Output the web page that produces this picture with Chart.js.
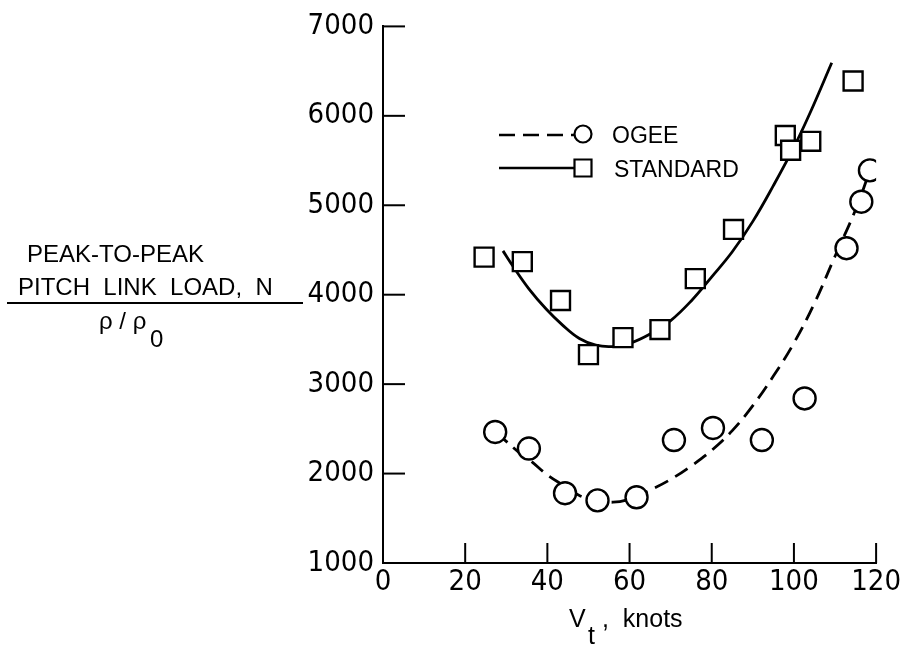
<!DOCTYPE html>
<html><head><meta charset="utf-8">
<script src="https://cdn.jsdelivr.net/npm/chart.js@4"></script>
<style>html,body{margin:0;padding:0;background:#fff}#wrap{position:relative;width:903px;height:648px}</style>
</head><body><div id="wrap"><canvas id="c" width="903" height="648"></canvas></div>
<script>
// ---- data ----
const xTickValues = [0, 20, 40, 60, 80, 100, 120];
const yTickValues = [1000, 2000, 3000, 4000, 5000, 6000, 7000];
const seriesLabels = ['OGEE', 'STANDARD'];

const ogeeX = [27.3, 35.5, 44.3, 52.2, 61.7, 70.8, 80.3, 92.2, 102.6, 112.8, 116.4, 118.5];
const ogeeY = [2465, 2280, 1780, 1700, 1735, 2375, 2510, 2375, 2840, 4520, 5040, 5390];

const stdX = [24.6, 33.9, 43.2, 50.0, 58.4, 67.4, 76.0, 85.3, 97.9, 99.2, 104.1, 114.4];
const stdY = [4420, 4370, 3935, 3330, 3520, 3610, 4180, 4730, 5780, 5615, 5715, 6390];

const ogeeFitX = [27.5, 30, 33, 36, 40, 44, 48, 52, 56, 60, 65, 70, 75, 80, 85, 90, 95, 100, 105, 110, 115, 118.5];
const ogeeFitY = [2460, 2360, 2240, 2140, 1985, 1865, 1750, 1700, 1680, 1715, 1815, 1935, 2085, 2260, 2480, 2760, 3090, 3460, 3905, 4430, 4950, 5390];

const stdFitX = [29.2, 31.6, 35.6, 39.7, 43.7, 47.8, 51.8, 55.8, 60, 65, 70, 75, 80, 85, 90, 95, 100, 104, 109.2];
const stdFitY = [4490, 4320, 4060, 3840, 3660, 3510, 3435, 3420, 3455, 3560, 3710, 3930, 4200, 4480, 4820, 5220, 5650, 6040, 6594];

const yTitleLines = ['PEAK-TO-PEAK', 'PITCH  LINK  LOAD,  N'];
const xTitleMain = 'V', xTitleSub = 't', xTitleRest = ',  knots';

// ---- helpers ----
const pts = (xs, ys) => xs.map((x, i) => ({x: x, y: ys[i]}));
const TEXT = 'Liberation Sans, Arial, sans-serif';
const NUM = '"Liberation Sans Narrow", "DejaVu Sans Condensed", sans-serif';

const decor = {
  id: 'decor',
  afterDraw(chart) {
    const ctx = chart.ctx, xs = chart.scales.x, ys = chart.scales.y;
    const ca = chart.chartArea;
    ctx.save();
    ctx.strokeStyle = '#000'; ctx.fillStyle = '#000'; ctx.lineWidth = 2;
    // inward ticks
    yTickValues.forEach(v => {
      if (v === ys.min) return;
      const py = ys.getPixelForValue(v);
      ctx.beginPath(); ctx.moveTo(ca.left, py); ctx.lineTo(ca.left + 22, py); ctx.stroke();
    });
    xTickValues.forEach(v => {
      if (v === xs.min) return;
      const px = xs.getPixelForValue(v);
      ctx.beginPath(); ctx.moveTo(px, ca.bottom); ctx.lineTo(px, ca.bottom - 20); ctx.stroke();
    });
    // y title (fraction)
    ctx.font = '24px ' + TEXT; ctx.textAlign = 'left'; ctx.textBaseline = 'alphabetic';
    ctx.fillText(yTitleLines[0], 27, 262);
    ctx.fillText(yTitleLines[1], 18, 295);
    ctx.beginPath(); ctx.moveTo(7, 303); ctx.lineTo(303, 303); ctx.stroke();
    ctx.fillText('\u03C1 / \u03C1', 99, 329);
    ctx.fillText('0', 150, 347);
    // x title
    ctx.font = '25px ' + TEXT;
    ctx.fillText(xTitleMain, 569, 627);
    ctx.fillText(xTitleSub, 588, 644);
    ctx.fillText(xTitleRest, 602, 627);
    // legend
    const ly = [135, 168];
    ctx.lineWidth = 2.5;
    ctx.setLineDash([16, 8]);
    ctx.beginPath(); ctx.moveTo(499, ly[0]); ctx.lineTo(574, ly[0]); ctx.stroke();
    ctx.setLineDash([]);
    ctx.beginPath(); ctx.moveTo(499, ly[1]); ctx.lineTo(574, ly[1]); ctx.stroke();
    ctx.lineWidth = 2.2;
    ctx.fillStyle = '#fff';
    ctx.beginPath(); ctx.arc(583, ly[0] - 1, 8.5, 0, Math.PI * 2); ctx.fill(); ctx.stroke();
    ctx.beginPath(); ctx.rect(574.5, ly[1] - 8.5, 17, 17); ctx.fill(); ctx.stroke();
    ctx.fillStyle = '#000';
    ctx.font = '23px ' + TEXT;
    ctx.fillText(seriesLabels[0], 612, 143);
    ctx.fillText(seriesLabels[1], 614, 177);
    ctx.restore();
  }
};

new Chart(document.getElementById('c'), {
  type: 'scatter',
  data: {
    datasets: [
      {label: seriesLabels[0] + ' fit', data: pts(ogeeFitX, ogeeFitY), showLine: true, borderColor: '#000', borderWidth: 2.8,
       borderDash: [15, 8], pointRadius: 0, tension: 0.4, order: 3},
      {label: seriesLabels[1] + ' fit', data: pts(stdFitX, stdFitY), showLine: true, borderColor: '#000', borderWidth: 2.8,
       pointRadius: 0, tension: 0.4, order: 3},
      {label: seriesLabels[0], data: pts(ogeeX, ogeeY), pointStyle: 'circle', pointRadius: 11, pointBorderWidth: 2.4,
       borderColor: '#000', backgroundColor: '#fff', pointBackgroundColor: '#fff', order: 1},
      {label: seriesLabels[1], data: pts(stdX, stdY), pointStyle: 'rect', pointRadius: 13.4, pointBorderWidth: 2.4,
       borderColor: '#000', backgroundColor: '#fff', pointBackgroundColor: '#fff', order: 1}
    ]
  },
  options: {
    responsive: false, animation: false,
    layout: {padding: {top: 22, right: 25, left: 0, bottom: 0}},
    plugins: {legend: {display: false}, tooltip: {enabled: false}},
    scales: {
      x: {
        type: 'linear', min: 0, max: 120,
        afterBuildTicks: s => { s.ticks = xTickValues.map(v => ({value: v})); },
        afterFit: s => { s.height = 85; },
        grid: {display: false, drawTicks: false},
        border: {display: true, color: '#000', width: 2},
        ticks: {color: '#000', font: {family: NUM, size: 29}, padding: 2, maxRotation: 0, callback: v => String(v)}
      },
      y: {
        type: 'linear', min: 1000, max: 7000,
        afterBuildTicks: s => { s.ticks = yTickValues.map(v => ({value: v})); },
        afterFit: s => { s.width = 383; },
        grid: {display: false, drawTicks: false},
        border: {display: true, color: '#000', width: 2},
        ticks: {color: '#000', font: {family: NUM, size: 29}, padding: 9, callback: v => String(v)}
      }
    }
  },
  plugins: [decor]
});
</script>
</body></html>
